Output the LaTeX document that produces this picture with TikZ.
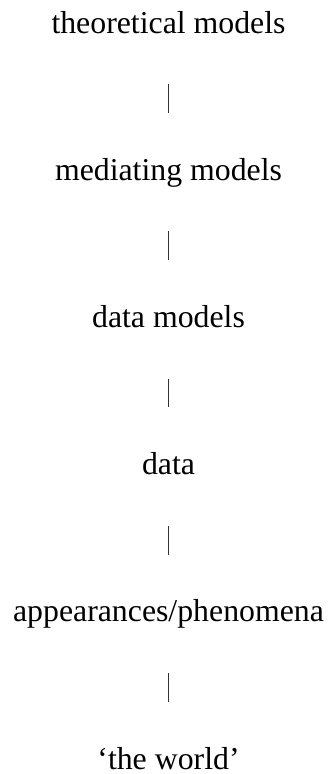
\documentclass[tikz,border=0pt]{standalone}
\usepackage{fontspec}
\setmainfont{Liberation Serif}
\def \midx {168.5}
\def \rowgap {147.2}
\def \firstbase {33}
\tikzset{
  level/.style={inner sep=0pt, text height=22pt, text depth=7pt, anchor=base,
    font=\fontsize{31.8}{38}\selectfont},
  link/.style={black!80, line width=1pt, shorten <=44pt, shorten >=45pt}
}
\begin{document}
\begin{tikzpicture}[x=1pt,y=-1pt]
\useasboundingbox (0,0) rectangle (329,774);
% the levels, top to bottom
\node[level] (theory) at (\midx,\firstbase) {theoretical models};
\node[level] (mediating) at (\midx,\firstbase+\rowgap) {mediating models};
\node[level] (datamodels) at (\midx,\firstbase+2*\rowgap) {data models};
\node[level] (data) at (\midx,\firstbase+3*\rowgap) {data};
\node[level] (appear) at (\midx,\firstbase+4*\rowgap) {appearances/phenomena};
\node[level] (world) at (\midx,\firstbase+5*\rowgap) {‘the world’};
% the short bars between levels
\foreach \a/\b in {theory/mediating,mediating/datamodels,datamodels/data,data/appear,appear/world}
{
\draw[link] (\a) -- (\b);
}
\end{tikzpicture}
\end{document}
